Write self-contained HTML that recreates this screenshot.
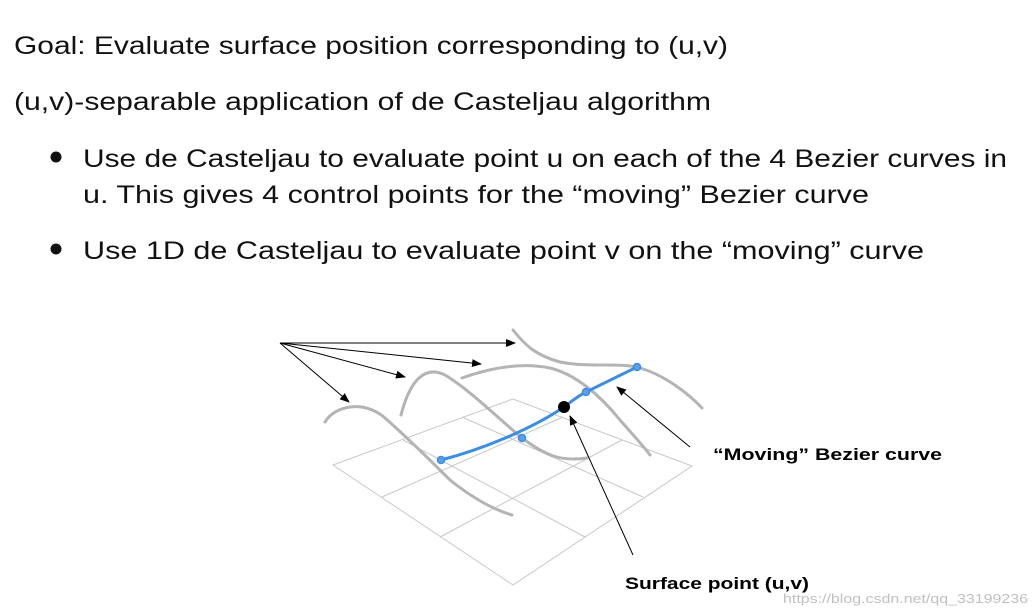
<!DOCTYPE html>
<html><head><meta charset="utf-8"><style>
html,body{margin:0;padding:0;background:#fff;}
svg{display:block;}
text{font-family:"Liberation Sans",sans-serif;}
</style></head><body>
<svg width="1035" height="616" viewBox="0 0 1035 616" xmlns="http://www.w3.org/2000/svg">
<defs>
<marker id="ah" markerWidth="10" markerHeight="8" refX="9" refY="4" orient="auto" markerUnits="userSpaceOnUse">
<path d="M0,0 L10,4 L0,8 Z" fill="#000"/>
</marker>
</defs>
<g fill="#111" font-size="25">
<text x="14" y="54" textLength="714" lengthAdjust="spacingAndGlyphs">Goal: Evaluate surface position corresponding to (u,v)</text>
<text x="14" y="110" textLength="697" lengthAdjust="spacingAndGlyphs">(u,v)-separable application of de Casteljau algorithm</text>
<text x="83" y="167" textLength="924" lengthAdjust="spacingAndGlyphs">Use de Casteljau to evaluate point u on each of the 4 Bezier curves in</text>
<text x="83" y="203" textLength="786" lengthAdjust="spacingAndGlyphs">u. This gives 4 control points for the “moving” Bezier curve</text>
<text x="83" y="259" textLength="841" lengthAdjust="spacingAndGlyphs">Use 1D de Casteljau to evaluate point v on the “moving” curve</text>
</g>
<circle cx="56" cy="157" r="5.5" fill="#111"/>
<circle cx="56" cy="249" r="5.5" fill="#111"/>

<!-- grid -->
<g stroke="#c8c8c8" stroke-width="1" fill="none">
<path d="M333,465 L513,399 L692,466 L513,585 Z"/>
<path d="M382,497 L563,417 M440,537 L622,440"/>
<path d="M403,440 L585,537 M462,417 L643,497"/>
</g>
<!-- gray curves -->
<g stroke="#b4b4b4" stroke-width="3" fill="none" stroke-linecap="round">
<path d="M325,422 C335,405 365,400 385,418 C410,440 430,460 450,480 C475,500 495,510 512,515"/>
<path d="M401,415 C410,380 425,365 445,375 C470,390 500,420 522,438 C545,455 560,462 587,458"/>
<path d="M462,378 C490,368 520,362 550,368 C575,374 600,395 620,420 C635,437 645,448 650,455"/>
<path d="M513,330 C525,345 535,355 560,362 C590,368 620,362 640,368 C665,375 690,395 702,408"/>
</g>
<!-- blue curve -->
<path d="M441,460 C480,450 530,430 564,407 C572,401 578,396 586,392 L637,367" stroke="#3a8ee6" stroke-width="3" fill="none"/>
<g fill="#5aa0f0" stroke="#3a8ee6" stroke-width="1.5">
<circle cx="441" cy="460" r="3.5"/><circle cx="522" cy="438" r="3.5"/>
<circle cx="586" cy="392" r="3.5"/><circle cx="637" cy="367" r="3.5"/>
</g>
<circle cx="564" cy="407" r="6" fill="#000"/>
<!-- arrows -->
<g stroke="#000" stroke-width="1" marker-end="url(#ah)">
<line x1="280" y1="343" x2="515" y2="343"/>
<line x1="280" y1="343" x2="481" y2="364"/>
<line x1="280" y1="343" x2="405" y2="377"/>
<line x1="280" y1="343" x2="349" y2="402"/>
<line x1="690" y1="447" x2="617" y2="387"/>
<line x1="633" y1="555" x2="570" y2="416"/>
</g>
<text x="713" y="460" font-size="17" font-weight="bold" fill="#000" textLength="229" lengthAdjust="spacingAndGlyphs">“Moving” Bezier curve</text>
<text x="625" y="589" font-size="17" font-weight="bold" fill="#000" textLength="184" lengthAdjust="spacingAndGlyphs">Surface point (u,v)</text>
<text x="783" y="603" font-size="13" fill="#c0c0c0" textLength="245" lengthAdjust="spacingAndGlyphs">https://blog.csdn.net/qq_33199236</text>
</svg>
</body></html>
